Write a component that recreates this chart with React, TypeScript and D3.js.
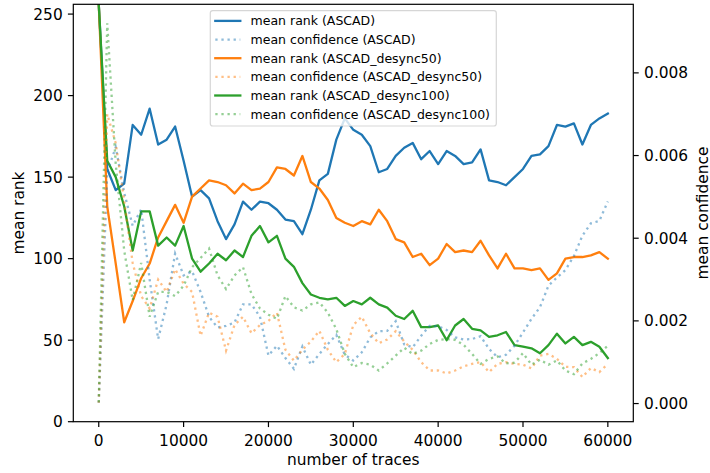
import React from 'react';
import * as d3 from 'd3';

const traces = [0,1000,2000,3000,4000,5000,6000,7000,8000,9000,10000,11000,12000,13000,14000,15000,16000,17000,18000,19000,20000,21000,22000,23000,24000,25000,26000,27000,28000,29000,30000,31000,32000,33000,34000,35000,36000,37000,38000,39000,40000,41000,42000,43000,44000,45000,46000,47000,48000,49000,50000,51000,52000,53000,54000,55000,56000,57000,58000,59000,60000];

const rankASCAD = [256,155,142,146,182,176,192,170,173,181,160,138,142,137,123,112,121,135,130,135,134,130,124,123,115,130,148,152,173,186,179,176,169,153,155,163,168,171,161,166,158,166,163,158,159,167,148,147,145,150,155,163,164,169,182,181,183,170,182,186,189];
const rankDesync50 = [256,132,97,61,74,88,97,113,123,133,122,138,143,148,147,145,140,146,142,143,147,156,155,151,163,147,143,136,125,122,120,123,121,130,123,112,110,101,103,96,100,109,104,105,104,111,102,94,103,94,94,93,94,87,91,100,101,101,102,104,100];
const rankDesync100 = [256,160,150,132,105,129,129,108,113,108,120,100,92,97,103,99,105,101,114,120,110,114,100,95,85,78,76,75,76,71,74,72,76,72,70,65,63,68,58,58,59,50,59,63,57,56,52,53,55,47,46,45,42,47,54,48,52,47,49,46,39];

const confASCAD = [0.00002,0.0056,0.0062,0.0051,0.0043,0.0047,0.0030,0.00156,0.0024,0.00363,0.0031,0.0032,0.0027,0.0021,0.00184,0.00188,0.00196,0.0024,0.0024,0.0021,0.00116,0.0014,0.0011,0.00084,0.00138,0.00094,0.0012,0.00144,0.00166,0.00118,0.00104,0.00124,0.0016,0.00175,0.00176,0.00199,0.00143,0.00136,0.00164,0.00188,0.00187,0.00178,0.0016,0.00155,0.00156,0.00163,0.00132,0.00112,0.00118,0.0014,0.00172,0.00205,0.00233,0.00285,0.00305,0.00323,0.00357,0.00406,0.00436,0.00442,0.00489];
const confDesync50 = [0.00002,0.0070,0.0063,0.0049,0.0034,0.0026,0.0023,0.0030,0.0027,0.00325,0.0029,0.0027,0.00164,0.0022,0.0021,0.00128,0.0019,0.0021,0.0017,0.0019,0.0020,0.0022,0.0013,0.00104,0.0013,0.0015,0.00176,0.0013,0.0010,0.0012,0.0019,0.0021,0.0017,0.00146,0.00155,0.00175,0.0015,0.0013,0.0010,0.0008,0.0008,0.00073,0.0008,0.0009,0.00096,0.001,0.00076,0.00096,0.001,0.00096,0.00094,0.00085,0.00116,0.0012,0.00108,0.00089,0.00088,0.00064,0.00086,0.00076,0.00096];
const confDesync100 = [0.00003,0.0092,0.0058,0.0037,0.0025,0.0034,0.0021,0.0027,0.0027,0.0026,0.00285,0.0033,0.00352,0.00375,0.0031,0.00277,0.0031,0.0033,0.00265,0.0023,0.00215,0.00205,0.0026,0.00233,0.00225,0.0024,0.00245,0.0022,0.0018,0.0012,0.00088,0.00098,0.00094,0.0008,0.00097,0.00116,0.00135,0.0012,0.00128,0.00144,0.00154,0.00156,0.00154,0.00142,0.0012,0.00096,0.00108,0.00114,0.00097,0.00099,0.00122,0.00094,0.00106,0.00094,0.00104,0.0008,0.00071,0.00097,0.00108,0.00122,0.0014];

const xTicks = [0,10000,20000,30000,40000,50000,60000];
const yLeftTicks = [0,50,100,150,200,250];
const yRightTicks = [0,0.002,0.004,0.006,0.008];

const seriesNames = ['ASCAD','ASCAD_desync50','ASCAD_desync100'];
const colors = ['#1f77b4','#ff7f0e','#2ca02c'];
const ranks = [rankASCAD, rankDesync50, rankDesync100];
const confs = [confASCAD, confDesync50, confDesync100];

const W = 710, H = 473;
const L = 73.3, R = 633.3, T = 4.3, B = 421.7;
const FONT = 'DejaVu Sans, sans-serif';
const FS = 15.4;
const LFS = 12.5;
const LW = 2.3;
const TICK = 5.4;

export default function App() {
  const x = d3.scaleLinear().domain([-3000, 63000]).range([L, R]);
  const yL = d3.scaleLinear().domain([0, 256]).range([B, T]);
  const allConf = confs.flat();
  const cmin = d3.min(allConf) as number;
  const cmax = d3.max(allConf) as number;
  const pad = (cmax - cmin) * 0.05;
  const yR = d3.scaleLinear().domain([cmin - pad, cmax + pad]).range([B, T]);

  const lineL = (vals: number[]) =>
    d3.line<number>().x((_, i) => x(traces[i])).y(v => yL(v))(vals) as string;
  const lineR = (vals: number[]) =>
    d3.line<number>().x((_, i) => x(traces[i])).y(v => yR(v))(vals) as string;

  const legendItems: { label: string; color: string; dotted: boolean }[] = [];
  seriesNames.forEach((n, i) => {
    legendItems.push({ label: `mean rank (${n})`, color: colors[i], dotted: false });
    legendItems.push({ label: `mean confidence (${n})`, color: colors[i], dotted: true });
  });

  const legW = 286;
  const legX = (L + R) / 2 - legW / 2;
  const legY = 10.6;
  const legH = 115.4;
  const row0 = 20.9;
  const rowStep = 18.65;
  const dash = `${LW},${(LW * 1.65).toFixed(2)}`;

  return (
    <svg width={W} height={H} style={{ position: 'absolute', left: 0, top: 0, background: '#fff' }} fontFamily={FONT}>
      <rect x={0} y={0} width={W} height={H} fill="#fff" />
      <defs>
        <clipPath id="plotclip">
          <rect x={L} y={T} width={R - L} height={B - T} />
        </clipPath>
      </defs>
      <g clipPath="url(#plotclip)">
        {ranks.map((r, i) => (
          <path key={'r' + i} d={lineL(r)} fill="none" stroke={colors[i]} strokeWidth={LW} strokeLinejoin="round" strokeLinecap="square" />
        ))}
        {confs.map((c, i) => (
          <path key={'c' + i} d={lineR(c)} fill="none" stroke={colors[i]} strokeOpacity={0.5} strokeWidth={LW} strokeDasharray={dash} strokeLinecap="butt" />
        ))}
      </g>
      <rect x={L} y={T} width={R - L} height={B - T} fill="none" stroke="#000" strokeWidth={1.2} />
      {xTicks.map(t => (
        <g key={'xt' + t}>
          <line x1={x(t)} x2={x(t)} y1={B} y2={B + TICK} stroke="#000" strokeWidth={1.2} />
          <text x={x(t)} y={446} textAnchor="middle" fontSize={FS} fill="#000">{t}</text>
        </g>
      ))}
      {yLeftTicks.map(t => (
        <g key={'yl' + t}>
          <line x1={L - TICK} x2={L} y1={yL(t)} y2={yL(t)} stroke="#000" strokeWidth={1.2} />
          <text x={L - TICK - 5.2} y={yL(t) + 5.6} textAnchor="end" fontSize={FS} fill="#000">{t}</text>
        </g>
      ))}
      {yRightTicks.map(t => (
        <g key={'yr' + t}>
          <line x1={R} x2={R + TICK} y1={yR(t)} y2={yR(t)} stroke="#000" strokeWidth={1.2} />
          <text x={R + TICK + 5.4} y={yR(t) + 5.6} textAnchor="start" fontSize={FS} fill="#000">{t.toFixed(3)}</text>
        </g>
      ))}
      <text x={(L + R) / 2} y={465} textAnchor="middle" fontSize={FS} fill="#000">number of traces</text>
      <text transform={`translate(24,${(T + B) / 2}) rotate(-90)`} textAnchor="middle" fontSize={FS} fill="#000">mean rank</text>
      <text transform={`translate(707.5,${(T + B) / 2}) rotate(-90)`} textAnchor="middle" fontSize={FS} fill="#000">mean confidence</text>
      <g>
        <rect x={legX} y={legY} width={legW} height={legH} rx={2.5} ry={2.5} fill="#fff" fillOpacity={0.8} stroke="#cccccc" strokeOpacity={0.8} strokeWidth={1.2} />
        {legendItems.map((it, i) => {
          const cy = row0 + i * rowStep;
          return (
            <g key={'lg' + i}>
              <line x1={legX + 5} x2={legX + 30} y1={cy} y2={cy} stroke={it.color} strokeWidth={LW}
                strokeOpacity={it.dotted ? 0.5 : 1} strokeDasharray={it.dotted ? dash : undefined} strokeLinecap={it.dotted ? 'butt' : 'square'} />
              <text x={legX + 40.3} y={cy + 4.5} fontSize={LFS} fill="#000">{it.label}</text>
            </g>
          );
        })}
      </g>
    </svg>
  );
}
